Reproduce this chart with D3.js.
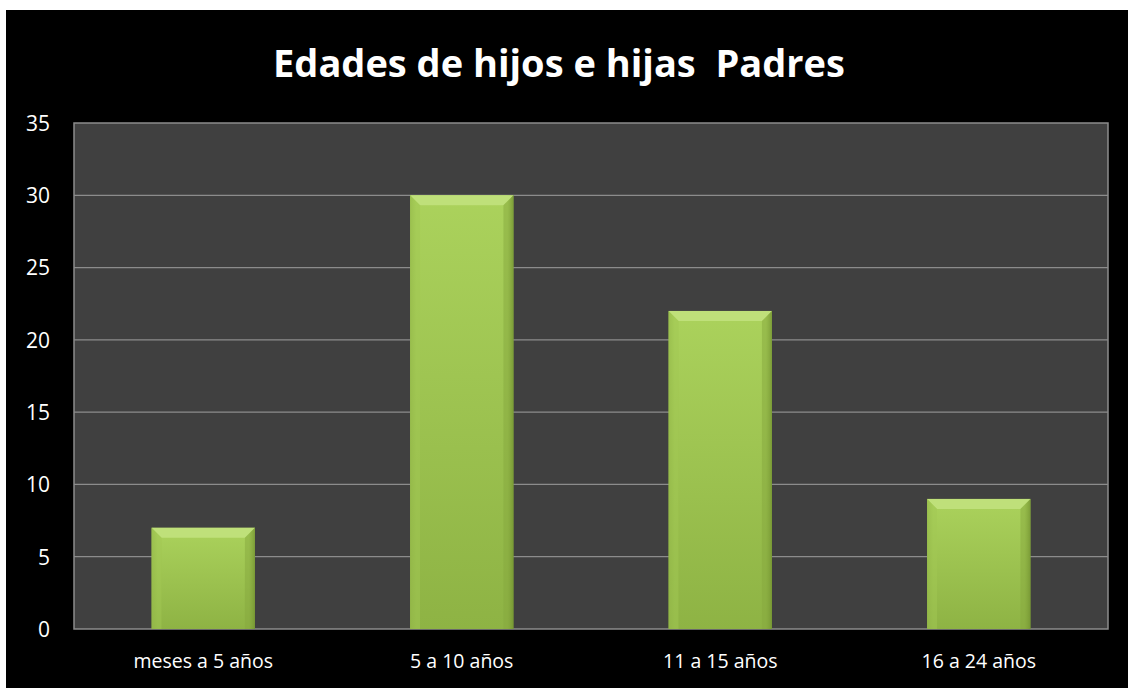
<!DOCTYPE html>
<html>
<head>
<meta charset="utf-8">
<script src="https://cdn.jsdelivr.net/npm/d3@7"></script>
<style>
  html, body { margin: 0; padding: 0; background: #fff; }
</style>
</head>
<body>
<div id="chart"></div>
<script>
// datos
const categories = ["meses a 5 años", "5 a 10 años", "11 a 15 años", "16 a 24 años"]
const values = [7, 30, 22, 9]
const yTicks = [0, 5, 10, 15, 20, 25, 30, 35]
const title = "Edades de hijos e hijas  Padres"

const width = 1128
const height = 688
const marginTop = 123      // top of plot area
const marginRight = 20
const marginBottom = 59
const marginLeft = 74
const fontFamily = "'Open Sans', 'Liberation Sans', sans-serif"

const svg = d3.select("#chart")
    .append("svg")
    .attr("width", width)
    .attr("height", height)

// gradientes de las barras
const defs = svg.append("defs")
const grad = defs.append("linearGradient")
    .attr("id", "barGrad").attr("x1", 0).attr("y1", 0).attr("x2", 0).attr("y2", 1)
grad.append("stop").attr("offset", "0%").attr("stop-color", "#abd25c")
grad.append("stop").attr("offset", "100%").attr("stop-color", "#8eb344")
const side = defs.append("linearGradient")
    .attr("id", "sideGrad").attr("x1", 0).attr("y1", 0).attr("x2", 1).attr("y2", 0)
side.append("stop").attr("offset", "0%").attr("stop-color", "#6f8f2c").attr("stop-opacity", 0.35)
side.append("stop").attr("offset", "6%").attr("stop-color", "#6f8f2c").attr("stop-opacity", 0)
side.append("stop").attr("offset", "94%").attr("stop-color", "#6f8f2c").attr("stop-opacity", 0)
side.append("stop").attr("offset", "100%").attr("stop-color", "#4f6a18").attr("stop-opacity", 0.6)

// fondo negro
svg.append("rect")
    .attr("x", 6).attr("y", 10)
    .attr("width", width - 6).attr("height", height - 10)
    .attr("fill", "#000")

// título
svg.append("text")
    .attr("x", 559).attr("y", 77)
    .attr("text-anchor", "middle")
    .attr("fill", "#fff")
    .style("white-space", "pre")
    .style("font-family", fontFamily)
    .style("font-weight", "bold")
    .style("font-size", "38px")
    .text(title)

const xScale = d3.scaleBand(categories, [marginLeft, width - marginRight]).paddingInner(0.6).paddingOuter(0.3)
const yScale = d3.scaleLinear([0, 35], [height - marginBottom, marginTop])

// área de trazado
svg.append("rect")
    .attr("x", marginLeft).attr("y", marginTop)
    .attr("width", width - marginRight - marginLeft)
    .attr("height", height - marginBottom - marginTop)
    .attr("fill", "#404040")

// líneas de división
svg.append("g")
    .selectAll("line")
    .data(yTicks.slice(1, -1))
    .join("line")
    .attr("x1", marginLeft).attr("x2", width - marginRight)
    .attr("y1", d => yScale(d)).attr("y2", d => yScale(d))
    .attr("stroke", "#8c8c8c")
    .attr("stroke-width", 1.3)

svg.append("rect")
    .attr("x", marginLeft).attr("y", marginTop)
    .attr("width", width - marginRight - marginLeft)
    .attr("height", height - marginBottom - marginTop)
    .attr("fill", "none")
    .attr("stroke", "#8c8c8c")
    .attr("stroke-width", 1.5)

// barras
const bars = svg.append("g")
    .selectAll("g")
    .data(categories.map((c, i) => ({ c, v: values[i] })))
    .join("g")

bars.append("rect")
    .attr("x", d => xScale(d.c))
    .attr("y", d => yScale(d.v))
    .attr("width", xScale.bandwidth())
    .attr("height", d => yScale(0) - yScale(d.v))
    .attr("fill", "url(#barGrad)")

bars.append("rect")
    .attr("x", d => xScale(d.c))
    .attr("y", d => yScale(d.v))
    .attr("width", xScale.bandwidth())
    .attr("height", d => yScale(0) - yScale(d.v))
    .attr("fill", "url(#sideGrad)")

// bisel superior
const bev = 10
bars.append("path")
    .attr("d", d => {
        const x0 = xScale(d.c), x1 = x0 + xScale.bandwidth(), y0 = yScale(d.v)
        return `M${x0},${y0}L${x1},${y0}L${x1 - bev},${y0 + bev}L${x0 + bev},${y0 + bev}Z`
    })
    .attr("fill", "#bfe07a")
bars.append("path")
    .attr("d", d => {
        const x0 = xScale(d.c), y0 = yScale(d.v)
        return `M${x0},${y0}L${x0 + bev},${y0 + bev}L${x0 + bev},${yScale(0)}L${x0},${yScale(0)}Z`
    })
    .attr("fill", "#a2c754").attr("opacity", 0.5)
bars.append("path")
    .attr("d", d => {
        const x1 = xScale(d.c) + xScale.bandwidth(), y0 = yScale(d.v)
        return `M${x1},${y0}L${x1 - bev},${y0 + bev}L${x1 - bev},${yScale(0)}L${x1},${yScale(0)}Z`
    })
    .attr("fill", "#86a83e").attr("opacity", 0.5)

// eje Y
const yAxis = d3.axisLeft(yScale).tickValues(yTicks).tickSize(0).tickPadding(0)
svg.append("g")
    .attr("transform", `translate(50,0)`)
    .call(yAxis)
    .call(g => g.select(".domain").remove())
    .call(g => g.selectAll("text")
        .attr("fill", "#fff")
        .attr("dy", "0.35em")
        .style("font-family", fontFamily)
        .style("font-size", "21px"))

// eje X
const xAxis = d3.axisBottom(xScale).tickSize(0).tickPadding(0)
svg.append("g")
    .attr("transform", `translate(0,${height - marginBottom + 32})`)
    .call(xAxis)
    .call(g => g.select(".domain").remove())
    .call(g => g.selectAll("text")
        .attr("fill", "#fff")
        .attr("dy", "0.35em")
        .style("font-family", fontFamily)
        .style("font-size", "19.5px"))
</script>
</body>
</html>
